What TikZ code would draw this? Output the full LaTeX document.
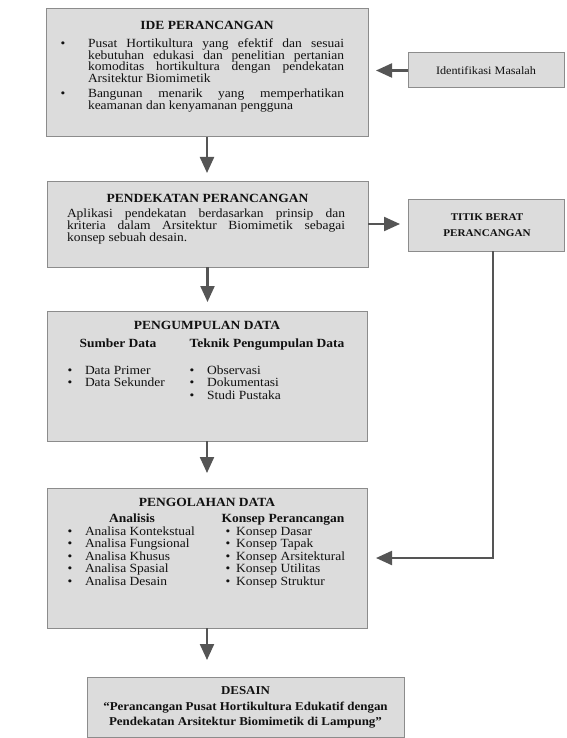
\documentclass[tikz,border=0pt]{standalone}
\usepackage{fontspec}
\setmainfont{Liberation Serif}[FakeStretch=1.08]
\usetikzlibrary{arrows.meta}
\definecolor{boxfill}{HTML}{DCDCDC}
\definecolor{boxline}{HTML}{8C8C8C}
\definecolor{arrcol}{HTML}{555555}
\definecolor{txtcol}{HTML}{111111}
\newcommand\jtext[2]{\makebox[#1pt][s]{#2}}
\begin{document}
\begin{tikzpicture}[x=1pt,y=-1pt,
  panel/.style={draw=boxline, fill=boxfill, line width=1pt, inner sep=0pt, outer sep=0pt, anchor=north west},
  txt/.style={inner sep=0pt, outer sep=0pt, text=txtcol, font=\fontsize{12.5}{12}\selectfont},
  lst/.style={txt, font=\fontsize{12.5}{13}\selectfont},
  ttl/.style={txt, font=\fontsize{12.5}{13}\selectfont\bfseries, anchor=base},
  subhd/.style={txt, font=\fontsize{12.5}{13}\selectfont\bfseries, anchor=base},
  tline/.style={txt, anchor=base west},
  litem/.style={lst, anchor=base west},
  bul/.style={txt, anchor=base},
  arr/.style={draw=arrcol, line width=2.2pt, -{Triangle[length=16pt,width=14pt]}},
]
\useasboundingbox (0,0) rectangle (566,738);

% boxes
\node[panel, minimum width=322pt, minimum height=128pt] (ide) at (46,9) {};
\node[panel, minimum width=321pt, minimum height=86pt] (pend) at (47,181) {};
\node[panel, minimum width=320pt, minimum height=130pt] (pengum) at (47,311) {};
\node[panel, minimum width=320pt, minimum height=140pt] (pengol) at (47,488) {};
\node[panel, minimum width=317pt, minimum height=60pt] (desain) at (87,677) {};
\node[panel, minimum width=156pt, minimum height=35pt] (ident) at (408,53) {};
\node[panel, minimum width=156pt, minimum height=52pt] (titik) at (408,199) {};

% IDE PERANCANGAN
\node[ttl] (t1) at (207,30) {IDE PERANCANGAN};
\node[bul] (b1) at (63,48) {•};
\node[tline] (l1) at (88,48) {\jtext{256}{Pusat Hortikultura yang efektif dan sesuai}};
\node[tline] (l2) at (88,59.5) {\jtext{256}{kebutuhan edukasi dan penelitian pertanian}};
\node[tline] (l3) at (88,71) {\jtext{256}{komoditas hortikultura dengan pendekatan}};
\node[tline] (l4) at (88,82.5) {Arsitektur Biomimetik};
\node[bul] (b2) at (63,98) {•};
\node[tline] (l5) at (88,98) {\jtext{256}{Bangunan menarik yang memperhatikan}};
\node[tline] (l6) at (88,109.5) {keamanan dan kenyamanan pengguna};

% PENDEKATAN PERANCANGAN
\node[ttl] (t2) at (207.5,202) {PENDEKATAN PERANCANGAN};
\node[tline] (l7) at (67,217) {\jtext{278}{Aplikasi pendekatan berdasarkan prinsip dan}};
\node[tline] (l8) at (67,229) {\jtext{278}{kriteria dalam Arsitektur Biomimetik sebagai}};
\node[tline] (l9) at (67,241) {konsep sebuah desain.};

% PENGUMPULAN DATA
\node[ttl] (t3) at (207,329) {PENGUMPULAN DATA};
\node[subhd] (s1) at (118,347) {Sumber Data};
\node[subhd] (s2) at (267,347) {Teknik Pengumpulan Data};
\node[bul] (b3) at (70,374) {•};
\node[litem] (d1) at (85,374) {Data Primer};
\node[bul] (b4) at (70,386.5) {•};
\node[litem] (d2) at (85,386.5) {Data Sekunder};
\node[bul] (b5) at (192,374) {•};
\node[litem] (d3) at (207,374) {Observasi};
\node[bul] (b6) at (192,386.5) {•};
\node[litem] (d4) at (207,386.5) {Dokumentasi};
\node[bul] (b7) at (192,399) {•};
\node[litem] (d5) at (207,399) {Studi Pustaka};

% PENGOLAHAN DATA
\node[ttl] (t4) at (207,506) {PENGOLAHAN DATA};
\node[subhd] (s3) at (132,522) {Analisis};
\node[subhd] (s4) at (283,522) {Konsep Perancangan};
\node[bul] (b8) at (70,535) {•};
\node[litem] (a1) at (85,535) {Analisa Kontekstual};
\node[bul] (b9) at (70,547.5) {•};
\node[litem] (a2) at (85,547.5) {Analisa Fungsional};
\node[bul] (b10) at (70,560) {•};
\node[litem] (a3) at (85,560) {Analisa Khusus};
\node[bul] (b11) at (70,572.5) {•};
\node[litem] (a4) at (85,572.5) {Analisa Spasial};
\node[bul] (b12) at (70,585) {•};
\node[litem] (a5) at (85,585) {Analisa Desain};
\node[bul] (b13) at (228,535) {•};
\node[litem] (k1) at (236,535) {Konsep Dasar};
\node[bul] (b14) at (228,547.5) {•};
\node[litem] (k2) at (236,547.5) {Konsep Tapak};
\node[bul] (b15) at (228,560) {•};
\node[litem] (k3) at (236,560) {Konsep Arsitektural};
\node[bul] (b16) at (228,572.5) {•};
\node[litem] (k4) at (236,572.5) {Konsep Utilitas};
\node[bul] (b17) at (228,585) {•};
\node[litem] (k5) at (236,585) {Konsep Struktur};

% DESAIN
\node[ttl, font=\fontsize{12}{12}\selectfont\bfseries] (t5) at (245.5,694) {DESAIN};
\node[ttl, font=\fontsize{12}{12}\selectfont\bfseries] (e1) at (245.5,710) {“Perancangan Pusat Hortikultura Edukatif dengan};
\node[ttl, font=\fontsize{12}{12}\selectfont\bfseries] (e2) at (245.5,725) {Pendekatan Arsitektur Biomimetik di Lampung”};

% right boxes
\node[txt, anchor=base, font=\fontsize{11.3}{12}\selectfont] (it) at (486,75) {Identifikasi Masalah};
\node[ttl, font=\fontsize{10.3}{12}\selectfont\bfseries] (tb1) at (487,220) {TITIK BERAT};
\node[ttl, font=\fontsize{10.3}{12}\selectfont\bfseries] (tb2) at (487,236) {PERANCANGAN};

% connectors
\draw[arr, shorten >=8pt] (ide.south) -- (ide.south |- pend.north);
\draw[arr, shorten >=9pt] (pend.south) -- (pend.south |- pengum.north);
\draw[arr, shorten >=15pt] (pengum.south) -- (pengum.south |- pengol.north);
\draw[arr, shorten >=17pt] (pengol.south) -- (pengol.south |- desain.north);
\draw[arr, shorten >=8pt] (ident.west) -- (ident.west -| ide.east);
\draw[arr, shorten >=8pt] (pend.east) -- (pend.east -| titik.west);
\coordinate (tdown) at ([xshift=7pt]titik.south);
\draw[arr, shorten >=9pt] (tdown) |- (pengol.east);
\end{tikzpicture}
\end{document}
